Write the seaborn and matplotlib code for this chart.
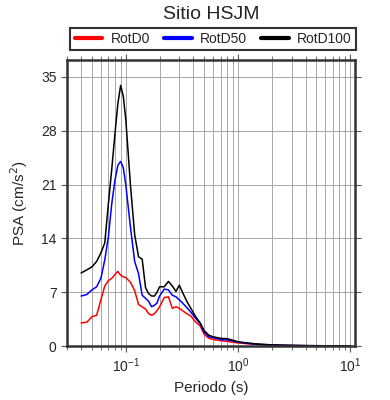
import matplotlib
matplotlib.use("Agg")
import matplotlib.pyplot as plt
from matplotlib.ticker import LogLocator, NullFormatter, FixedLocator
import pandas as pd
import seaborn as sns

# periods (s)
periodo = [0.04, 0.045, 0.05, 0.055, 0.06, 0.065, 0.07, 0.075, 0.08, 0.085,
           0.09, 0.095, 0.1, 0.11, 0.12, 0.13, 0.14, 0.15, 0.16, 0.17,
           0.18, 0.19, 0.2, 0.22, 0.24, 0.26, 0.28, 0.3, 0.32, 0.35,
           0.38, 0.42, 0.46, 0.5, 0.55, 0.6, 0.7, 0.8, 0.9, 1.0,
           1.2, 1.5, 2.0, 2.5, 3.0, 4.0, 5.0, 6.0, 8.0, 10.0]

rotd0 = [3.0, 3.1, 3.8, 4.0, 6.0, 7.8, 8.5, 8.8, 9.3, 9.7,
         9.2, 9.0, 8.9, 8.3, 7.2, 5.4, 5.1, 4.8, 4.2, 4.0,
         4.2, 4.6, 5.1, 6.3, 6.4, 4.9, 5.1, 4.9, 4.6, 4.2,
         3.9, 3.1, 2.6, 1.5, 1.0, 0.85, 0.7, 0.6, 0.5, 0.4,
         0.3, 0.2, 0.12, 0.08, 0.06, 0.04, 0.03, 0.02, 0.02, 0.01]

rotd50 = [6.5, 6.7, 7.3, 7.7, 8.8, 11.2, 14.2, 18.5, 21.5, 23.5,
          24.0, 23.2, 21.0, 15.5, 11.0, 9.4, 6.6, 6.2, 5.8, 5.1,
          5.3, 5.6, 6.5, 7.4, 7.3, 6.6, 6.4, 6.0, 5.6, 5.0,
          4.4, 3.6, 2.9, 1.8, 1.2, 1.1, 0.85, 0.8, 0.65, 0.5,
          0.35, 0.22, 0.13, 0.09, 0.07, 0.045, 0.035, 0.03, 0.02, 0.015]

rotd100 = [9.5, 9.9, 10.3, 11.0, 12.1, 13.4, 18.5, 23.0, 27.5, 31.5,
           33.9, 32.5, 29.5, 21.0, 14.5, 11.6, 11.3, 7.6, 6.8, 6.5,
           6.5, 7.0, 7.7, 7.7, 8.4, 7.8, 7.1, 7.9, 7.0, 5.8,
           4.9, 3.8, 3.0, 2.0, 1.4, 1.2, 1.0, 0.95, 0.75, 0.55,
           0.4, 0.25, 0.15, 0.1, 0.08, 0.05, 0.04, 0.03, 0.02, 0.02]

componentes = ["RotD0", "RotD50", "RotD100"]
colores = ["#ff0000", "#0000ff", "#000000"]
y_ticks = [0, 7, 14, 21, 28, 35]

df = pd.concat([
    pd.DataFrame({"Periodo": periodo, "PSA": vals, "comp": name})
    for name, vals in zip(componentes, [rotd0, rotd50, rotd100])
])

sns.set_style("ticks")
plt.rcParams["font.family"] = ["Liberation Sans", "DejaVu Sans"]

fig = plt.figure(figsize=(3.9, 4.0), dpi=100)
ax = fig.add_axes([0.172, 0.135, 0.738, 0.715])

sns.lineplot(data=df, x="Periodo", y="PSA", hue="comp", hue_order=componentes,
             palette=colores, linewidth=1.1, ax=ax, legend=False)

ax.set_xscale("log")
ax.set_xlim(0.03, 11)
ax.set_ylim(0, 37.2)
ax.yaxis.set_major_locator(FixedLocator(y_ticks))
ax.xaxis.set_major_locator(LogLocator(base=10))
ax.xaxis.set_minor_locator(LogLocator(base=10, subs=range(2, 10)))
ax.xaxis.set_minor_formatter(NullFormatter())

ax.grid(True, which="major", color="#999999", linewidth=0.6)
ax.grid(True, which="minor", axis="x", color="#999999", linewidth=0.6)

for sp in ax.spines.values():
    sp.set_linewidth(1.8)
    sp.set_color("#333333")

ax.tick_params(which="both", direction="out", top=True, right=True,
               labelsize=10, color="#555555")
ax.tick_params(which="major", length=4)
ax.tick_params(which="minor", length=3)

ax.set_xlabel("Periodo (s)", fontsize=11)
ax.set_ylabel("PSA (cm/s$^2$)", fontsize=11, labelpad=8)

handles = [plt.Line2D([], [], color=c, linewidth=3) for c in colores]
leg = fig.legend(handles, componentes, loc="center", ncol=3,
                 bbox_to_anchor=(0.547, 0.903), fontsize=10, frameon=True,
                 fancybox=False, edgecolor="black", handlelength=2.0,
                 columnspacing=1.0, borderpad=0.3, handletextpad=0.6)
leg.get_frame().set_linewidth(1.5)

fig.text(0.541, 0.963, "Sitio HSJM", ha="center", va="center", fontsize=14)

fig.savefig("out.png", dpi=100)
